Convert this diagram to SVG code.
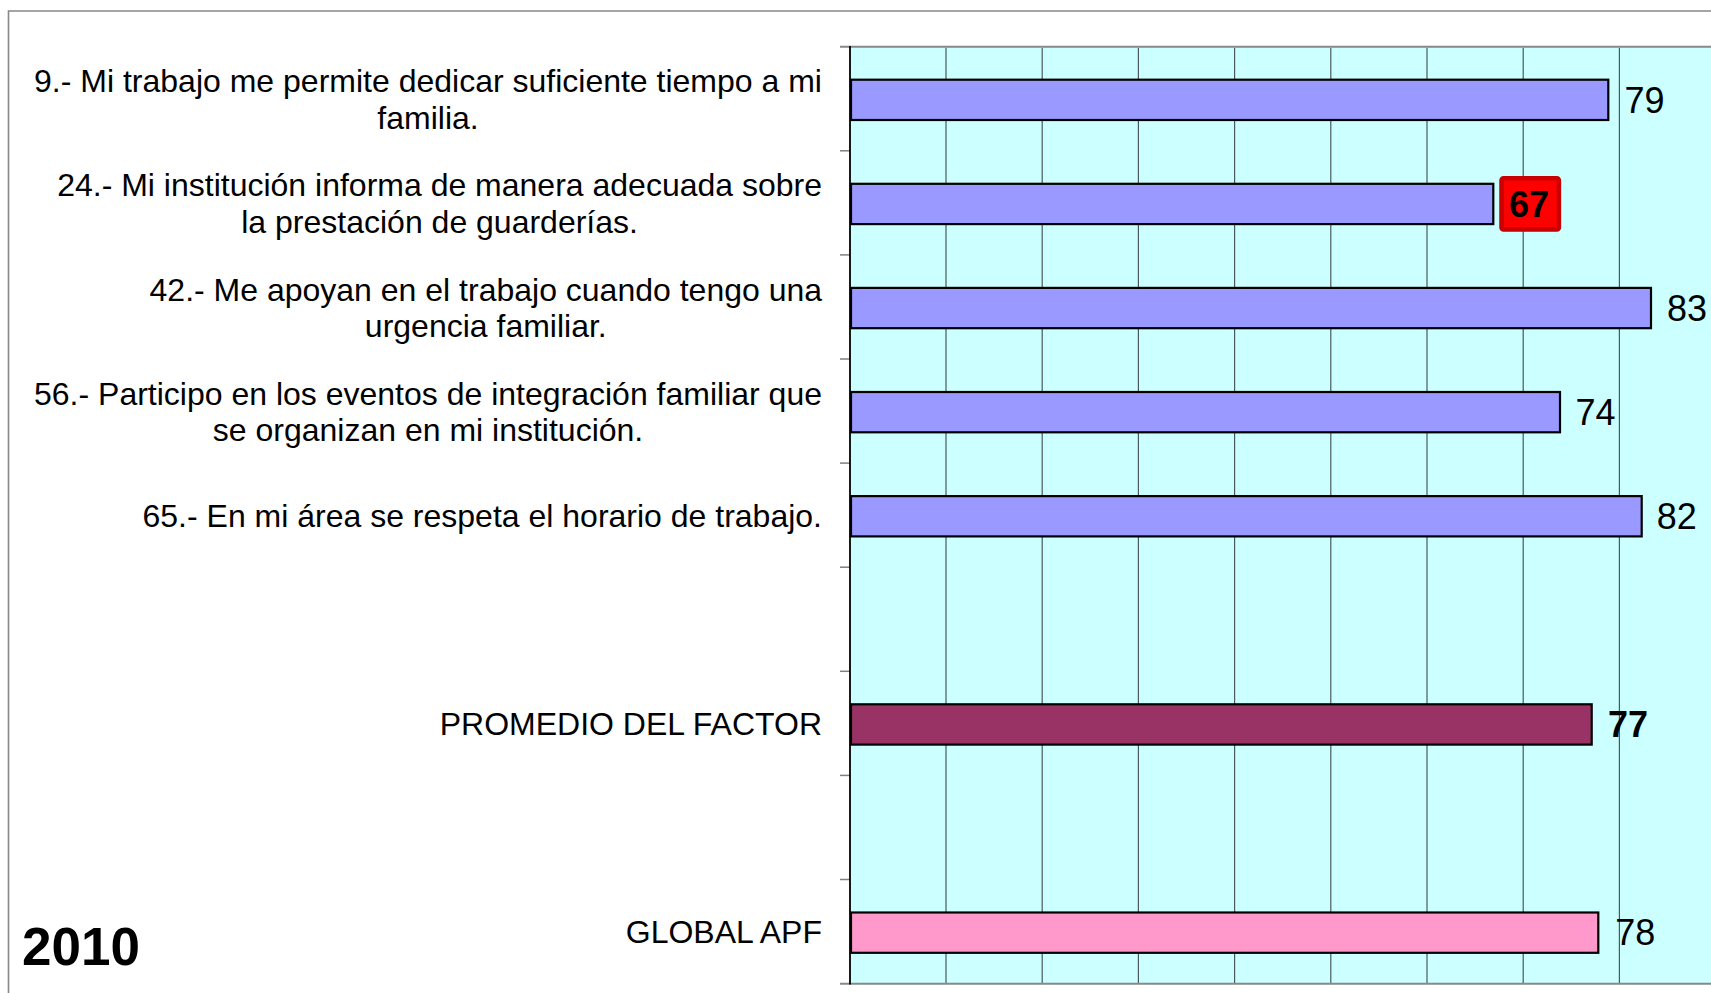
<svg xmlns="http://www.w3.org/2000/svg" width="1711" height="993" viewBox="0 0 1711 993">
<style>
.lbl{font-family:"Liberation Sans",Arial,Helvetica,sans-serif;font-size:32px;fill:#000}
.val{font-family:"Liberation Sans",Arial,Helvetica,sans-serif;font-size:36px;fill:#000}
.bold{font-weight:bold}
.bar{stroke:#000;stroke-width:2.2}
.grid{stroke:#4a5a5a;stroke-width:1.2}
.tick{stroke:#808080;stroke-width:1.5}
</style>
<rect x="0" y="0" width="1711" height="993" fill="#fff"/>
<path d="M8.5 993 V11 H1711" fill="none" stroke="#888" stroke-width="1.6"/>
<g id="plot">
<rect x="850" y="46.7" width="861" height="937" fill="#CCFFFF"/>
<g id="gridlines">
<line class="grid" x1="946" y1="47.7" x2="946" y2="983"/>
<line class="grid" x1="1042.2" y1="47.7" x2="1042.2" y2="983"/>
<line class="grid" x1="1138.4" y1="47.7" x2="1138.4" y2="983"/>
<line class="grid" x1="1234.6" y1="47.7" x2="1234.6" y2="983"/>
<line class="grid" x1="1330.8" y1="47.7" x2="1330.8" y2="983"/>
<line class="grid" x1="1427" y1="47.7" x2="1427" y2="983"/>
<line class="grid" x1="1523.2" y1="47.7" x2="1523.2" y2="983"/>
<line class="grid" x1="1619.4" y1="47.7" x2="1619.4" y2="983"/>
</g>
<line x1="840" y1="46.7" x2="1711" y2="46.7" stroke="#888" stroke-width="2"/>
<line x1="840" y1="983.7" x2="1711" y2="983.7" stroke="#888" stroke-width="2"/>
<g id="ticks">
<line class="tick" x1="840" y1="150.8" x2="850" y2="150.8"/>
<line class="tick" x1="840" y1="254.9" x2="850" y2="254.9"/>
<line class="tick" x1="840" y1="359" x2="850" y2="359"/>
<line class="tick" x1="840" y1="463.1" x2="850" y2="463.1"/>
<line class="tick" x1="840" y1="567.2" x2="850" y2="567.2"/>
<line class="tick" x1="840" y1="671.3" x2="850" y2="671.3"/>
<line class="tick" x1="840" y1="775.4" x2="850" y2="775.4"/>
<line class="tick" x1="840" y1="879.5" x2="850" y2="879.5"/>
</g>
<line x1="850" y1="46" x2="850" y2="984.5" stroke="#000" stroke-width="1.8"/>
</g>
<g id="bars">
<g id="bar-9"><rect class="bar" x="851" y="79.7" width="757.3" height="40.3" fill="#9999FF"/><text class="val" x="1624.5" y="112.7">79</text></g>
<g id="bar-24"><rect class="bar" x="851" y="183.8" width="642.3" height="40.3" fill="#9999FF"/>
<rect x="1501.5" y="178.2" width="57.4" height="51.3" rx="2" fill="#FF0000" stroke="#C80000" stroke-width="4.5"/>
<text class="val bold" x="1509" y="216.7">67</text></g>
<g id="bar-42"><rect class="bar" x="851" y="287.9" width="800" height="40.3" fill="#9999FF"/><text class="val" x="1667" y="320.7">83</text></g>
<g id="bar-56"><rect class="bar" x="851" y="392" width="709" height="40.3" fill="#9999FF"/><text class="val" x="1575.5" y="425">74</text></g>
<g id="bar-65"><rect class="bar" x="851" y="496.1" width="790.7" height="40.3" fill="#9999FF"/><text class="val" x="1656.8" y="528.5">82</text></g>
<g id="bar-promedio"><rect class="bar" x="851" y="704.3" width="740.7" height="40.3" fill="#993366"/><text class="val bold" x="1608" y="736.7">77</text></g>
<g id="bar-global"><rect class="bar" x="851" y="912.5" width="747.3" height="40.3" fill="#FF99CC"/><text class="val" x="1615.2" y="945">78</text></g>
</g>
<g id="labels">
<g id="label-9"><text class="lbl" x="428" y="92.3" text-anchor="middle">9.- Mi trabajo me permite dedicar suficiente tiempo a mi</text><text class="lbl" x="428" y="128.8" text-anchor="middle">familia.</text></g>
<g id="label-24"><text class="lbl" x="439.6" y="196.4" text-anchor="middle">24.- Mi institución informa de manera adecuada sobre</text><text class="lbl" x="439.6" y="232.9" text-anchor="middle">la prestación de guarderías.</text></g>
<g id="label-42"><text class="lbl" x="485.8" y="300.5" text-anchor="middle">42.- Me apoyan en el trabajo cuando tengo una</text><text class="lbl" x="485.8" y="337" text-anchor="middle">urgencia familiar.</text></g>
<g id="label-56"><text class="lbl" x="428" y="404.6" text-anchor="middle">56.- Participo en los eventos de integración familiar que</text><text class="lbl" x="428" y="441.1" text-anchor="middle">se organizan en mi institución.</text></g>
<g id="label-65"><text class="lbl" x="822" y="527.3" text-anchor="end">65.- En mi área se respeta el horario de trabajo.</text></g>
<g id="label-promedio"><text class="lbl" x="822" y="735.2" text-anchor="end">PROMEDIO DEL FACTOR</text></g>
<g id="label-global"><text class="lbl" x="822" y="943.4" text-anchor="end">GLOBAL APF</text></g>
</g>
<text id="year" class="bold" x="22" y="965" style="font-family:'Liberation Sans',Arial,sans-serif;font-size:53px">2010</text>
</svg>
